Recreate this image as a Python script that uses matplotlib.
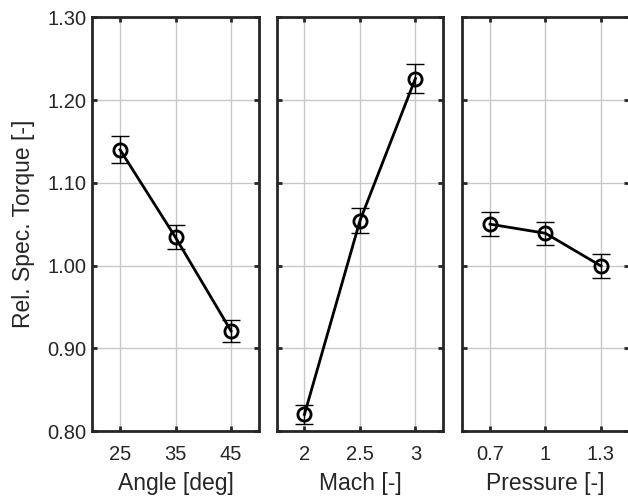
import numpy as np
import matplotlib
matplotlib.use("Agg")
import matplotlib.pyplot as plt

plt.rcParams['font.family'] = ['Liberation Sans', 'DejaVu Sans']

# factor levels and measured relative specific torque
angle = [25, 35, 45]
angle_val = [1.140, 1.034, 0.921]
angle_err = [0.016, 0.0145, 0.013]

mach = [2, 2.5, 3]
mach_val = [0.820, 1.054, 1.226]
mach_err = [0.0115, 0.015, 0.018]

pressure = [0.7, 1.0, 1.3]
pressure_val = [1.050, 1.039, 0.9995]
pressure_err = [0.0145, 0.014, 0.014]

xlabels = ["Angle [deg]", "Mach [-]", "Pressure [-]"]
xticklabels = [["25", "35", "45"], ["2", "2.5", "3"], ["0.7", "1", "1.3"]]
xlims = [(20, 50), (1.75, 3.25), (0.55, 1.45)]
yticks = [0.8, 0.9, 1.0, 1.1, 1.2, 1.3]

fig = plt.figure(figsize=(6.28, 5.01), dpi=100)
lefts = [0.147, 0.4406, 0.7361]
axes = [fig.add_axes([l, 0.1397, 0.2650, 0.8257]) for l in lefts]

data = [(angle, angle_val, angle_err), (mach, mach_val, mach_err),
        (pressure, pressure_val, pressure_err)]
spine_col = '#262626'

for i, (ax, (x, y, e)) in enumerate(zip(axes, data)):
    ax.errorbar(x, y, yerr=e, fmt='none', ecolor='black', elinewidth=1.0,
                capsize=6.5, capthick=1.0, zorder=3)
    ax.plot(x, y, '-o', color='black', lw=2, ms=9.5, mfc='none', mew=2, zorder=4)
    ax.set_xlim(*xlims[i])
    ax.set_ylim(0.8, 1.3)
    ax.set_xticks(x)
    ax.set_xticklabels(xticklabels[i])
    ax.set_yticks(yticks)
    ax.grid(True, color='#c8c8c8', lw=1)
    ax.set_axisbelow(True)
    ax.tick_params(direction='in', length=3.5, width=2, color=spine_col,
                   top=True, right=True, labelsize=14.5, labelcolor='#262626', pad=4)
    ax.tick_params(axis='x', pad=10)
    for s in ax.spines.values():
        s.set_linewidth(2)
        s.set_color(spine_col)
    ax.set_xlabel(xlabels[i], fontsize=16.5, color='#262626', labelpad=6)
    if i == 0:
        ax.set_yticklabels([f"{v:.2f}" for v in yticks])
        ax.set_ylabel("Rel. Spec. Torque [-]", fontsize=16.5, color='#262626', labelpad=9)
    else:
        ax.set_yticklabels([])

fig.savefig("out.png", dpi=100)
